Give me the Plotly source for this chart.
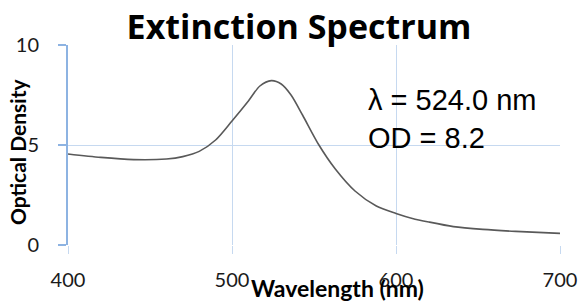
import plotly.graph_objects as go

wavelength = [400, 420, 440, 460, 470, 480, 490, 500, 510, 517, 524, 530, 536, 543,
              553, 563, 575, 588, 600, 610, 620, 635, 653, 673, 700]
optical_density = [4.55, 4.38, 4.27, 4.30, 4.42, 4.68, 5.25, 6.2, 7.2, 7.95, 8.22, 8.05,
                   7.5, 6.5, 5.0, 3.8, 2.7, 1.95, 1.58, 1.33, 1.15, 0.92, 0.78, 0.68, 0.58]
x_ticks = [400, 500, 600, 700]
y_ticks = [0, 5, 10]
peak_wl = 524.0
peak_od = 8.2

W, H = 581, 306
L, R, T, B = 68, 21, 45, 61

GRID = "#c6d9f0"
AXIS = "#8db3e2"
FONT = "Lato"


def px_to_paper(px_x, px_y):
    return (px_x - L) / (W - L - R), (H - B - px_y) / (H - T - B)


fig = go.Figure()
fig.add_trace(go.Scatter(
    x=wavelength, y=optical_density, mode="lines",
    line=dict(color="#595959", width=1.6, shape="spline", smoothing=0.8),
    hoverinfo="skip", showlegend=False,
))

xt, yt = px_to_paper(337, 288)
xy, yy = px_to_paper(17, 152)

fig.update_layout(
    width=W, height=H,
    margin=dict(l=L, r=R, t=T, b=B, pad=0, autoexpand=False),
    paper_bgcolor="white", plot_bgcolor="white",
    title=dict(text="<b>Extinction Spectrum</b>", x=299 / W, xanchor="center",
               xref="container", yref="container", y=1 - 27 / H, yanchor="middle",
               automargin=False,
               font=dict(family="Open Sans", size=34, color="black")),
    xaxis=dict(range=[400, 700], tickvals=x_ticks, showgrid=True, gridcolor=GRID, gridwidth=1.3,
               zeroline=False, showline=False, ticks="outside", ticklen=8, tickcolor=GRID,
               tickwidth=1.3, ticklabelstandoff=9, automargin=False,
               tickfont=dict(family=FONT, size=20, color="#1a1a1a")),
    yaxis=dict(range=[0, 10], tickvals=y_ticks, showgrid=True, gridcolor=GRID, gridwidth=1.3,
               zeroline=False, showline=True, linecolor=AXIS, linewidth=2,
               ticks="outside", ticklen=8, tickcolor=AXIS, tickwidth=1.5,
               ticklabelstandoff=15, automargin=False,
               tickfont=dict(family=FONT, size=20, color="#1a1a1a")),
    annotations=[
        dict(text=f"λ = {peak_wl:.1f} nm<br>OD = {peak_od:.1f}", x=582, y=8.15,
             xref="x", yref="y", xanchor="left", yanchor="top", align="left",
             showarrow=False, font=dict(family="Liberation Sans", size=29, color="black")),
        dict(text="<b>Wavelength (nm)</b>", x=xt, y=yt,
             xref="paper", yref="paper", xanchor="center", yanchor="middle",
             showarrow=False, font=dict(family=FONT, size=23, color="black")),
        dict(text="<b>Optical Density</b>", x=xy, y=yy,
             xref="paper", yref="paper", xanchor="center", yanchor="middle", textangle=-90,
             showarrow=False, font=dict(family=FONT, size=21, color="black")),
    ],
)

fig.write_html("out.html", config={"displayModeBar": False},
               post_script="document.body.style.margin='0px';")
